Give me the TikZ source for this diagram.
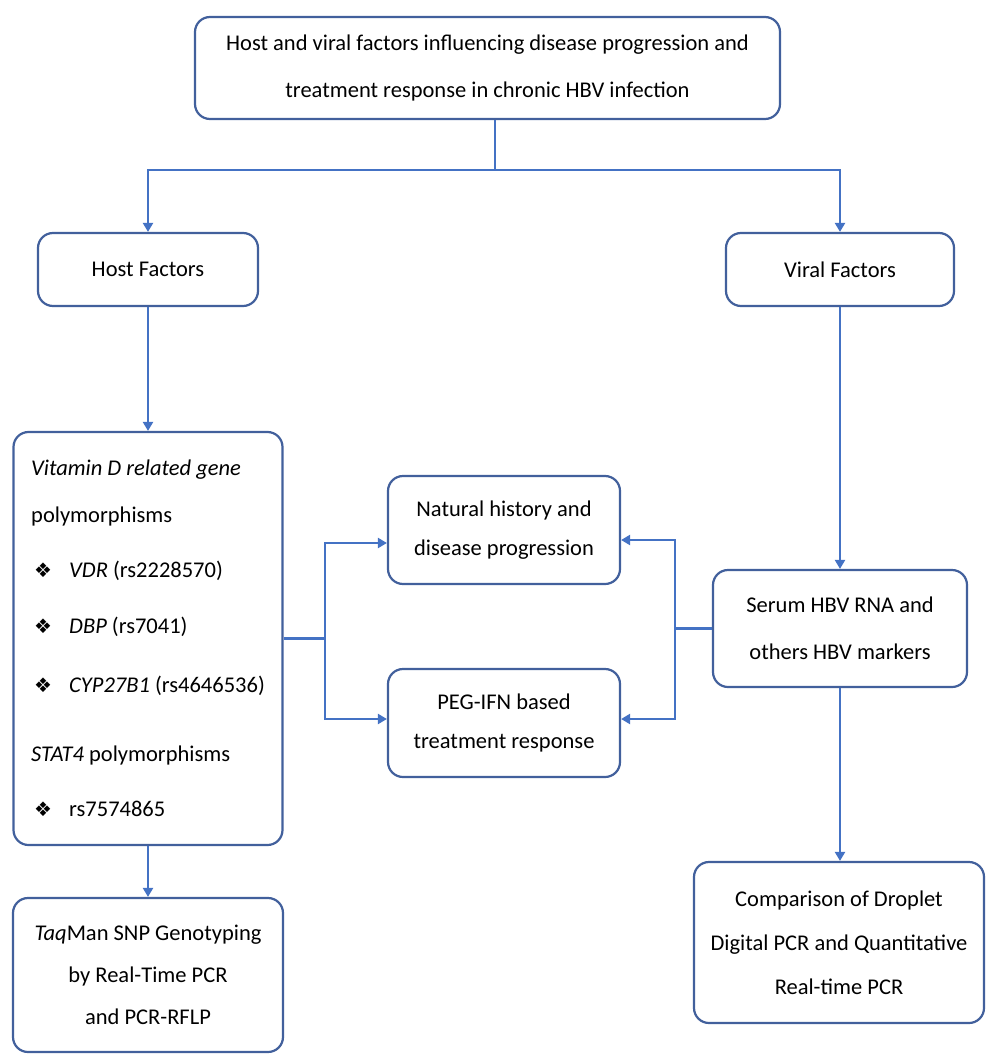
\documentclass[tikz,border=0pt]{standalone}
\usepackage{fontspec}
\setmainfont{Carlito}
\newfontfamily\dingfont{DejaVu Sans}
\usetikzlibrary{positioning, arrows.meta}

\definecolor{boxblue}{RGB}{66,96,156}
\definecolor{lineblue}{RGB}{68,114,196}

\tikzset{
    fbox/.style={draw=boxblue, line width=2.2pt, rounded corners=15pt, fill=white,
        align=center, inner sep=4pt, font=\fontsize{22.5}{47}\selectfont},
    fline/.style={draw=lineblue, line width=2.2pt},
    farrow/.style={fline, -{Triangle[width=10pt,length=9pt]}},
}
\newcommand{\bul}{\hspace*{3pt}\makebox[35pt][l]{\fontsize{20}{20}\dingfont\char"2756}}

\begin{document}
\begin{tikzpicture}[x=1pt, y=-1pt]
    \useasboundingbox (0,0) rectangle (986,1054);

    % top row
    \node[fbox, minimum width=585pt, minimum height=102pt] (top) at (487.5,68)
        {Host and viral factors influencing disease progression and\\
         treatment response in chronic HBV infection};
    \node[fbox, minimum width=220pt, minimum height=73pt] (host) at (148,269.5) {Host Factors};
    \node[fbox, minimum width=228pt, minimum height=73pt] (viral) at (840,269.5) {Viral Factors};

    % host side
    \node[fbox, minimum width=269pt, minimum height=413pt, align=left,
        font=\fontsize{22.5}{47}\selectfont] (vitd) at (148,638.5) {%
        \textit{Vitamin D related gene}\\
        polymorphisms\\[8pt]
        \bul\textit{VDR} (rs2228570)\\[9pt]
        \bul\textit{DBP} (rs7041)\\[12pt]
        \bul\textit{CYP27B1} (rs4646536)\\[22pt]
        \textit{STAT4} polymorphisms\\[8pt]
        \bul rs7574865};
    \node[fbox, minimum width=270pt, minimum height=154pt,
        font=\fontsize{22.5}{42}\selectfont] (taq) at (148,975)
        {\textit{Taq}Man SNP Genotyping\\ by Real-Time PCR\\ and PCR-RFLP};

    % outcomes
    \node[fbox, minimum width=232pt, minimum height=108pt,
        font=\fontsize{22.5}{39}\selectfont] (natural) at (504,530)
        {Natural history and\\ disease progression};
    \node[fbox, minimum width=232pt, minimum height=108pt,
        font=\fontsize{22.5}{39}\selectfont] (peg) at (504,723)
        {PEG-IFN based\\ treatment response};

    % viral side
    \node[fbox, minimum width=254pt, minimum height=117pt] (serum) at (840,628.5)
        {Serum HBV RNA and\\ others HBV markers};
    \node[fbox, minimum width=290pt, minimum height=161pt,
        font=\fontsize{22.5}{44}\selectfont] (ddpcr) at (839,942.5)
        {Comparison of Droplet\\ Digital PCR and Quantitative\\ Real-time PCR};

    % connectors
    \coordinate (split) at (495,170);
    \draw[fline] (top.south -| split) -- (split);
    \draw[farrow] (split) -| (host.north);
    \draw[farrow] (split) -| (viral.north);
    \draw[farrow] (host) -- (vitd);
    \draw[farrow] (vitd) -- (taq);
    \draw[farrow] (viral) -- (serum);
    \draw[farrow] (serum.south) -- (serum.south |- ddpcr.north);

    \coordinate (lsplit) at (325,638.5);
    \draw[fline] (vitd.east) -- (lsplit);
    \draw[farrow] (lsplit) |- ([yshift=-13pt]natural.west);
    \draw[farrow] (lsplit) |- ([yshift=4pt]peg.west);
    \coordinate (rsplit) at (675,628.5);
    \draw[fline] (serum.west) -- (rsplit);
    \draw[farrow] (rsplit) |- ([yshift=-10pt]natural.east);
    \draw[farrow] (rsplit) |- ([yshift=4pt]peg.east);
\end{tikzpicture}
\end{document}
